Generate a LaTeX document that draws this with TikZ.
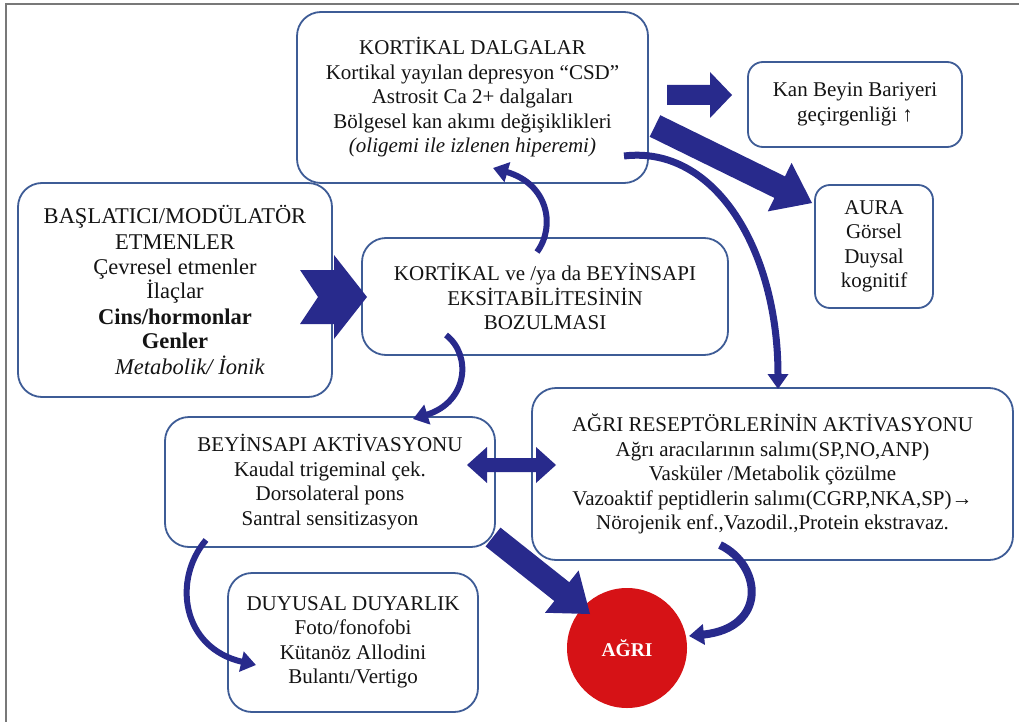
\documentclass[tikz,border=0pt]{standalone}
\usepackage{fontspec}
\setmainfont{Liberation Serif}
\usetikzlibrary{calc,arrows.meta}
\definecolor{boxcol}{RGB}{62,92,150}
\definecolor{arrcol}{RGB}{40,42,140}
\definecolor{redcol}{RGB}{214,18,22}
\definecolor{txtcol}{RGB}{20,20,20}
\definecolor{framecol}{RGB}{120,120,120}

% fat straight arrow: start, end, shaft half width, head half width, head length
\newcommand{\fatarrow}[5]{%
  \coordinate (fah) at ($(#2)!#5!(#1)$);
  \fill[arrcol] ($(#1)!#3!90:(#2)$) -- ($(fah)!#3!90:(#2)$) -- ($(fah)!#4!90:(#2)$)
    -- (#2) -- ($(fah)!#4!-90:(#2)$) -- ($(fah)!#3!-90:(#2)$) -- ($(#1)!#3!-90:(#2)$) -- cycle;
}
% double headed fat arrow
\newcommand{\dblarrow}[5]{%
  \coordinate (dah1) at ($(#1)!#5!(#2)$);
  \coordinate (dah2) at ($(#2)!#5!(#1)$);
  \fill[arrcol] (#1) -- ($(dah1)!#4!90:(#2)$) -- ($(dah1)!#3!90:(#2)$) -- ($(dah2)!#3!90:(#2)$)
    -- ($(dah2)!#4!90:(#2)$) -- (#2) -- ($(dah2)!#4!-90:(#2)$) -- ($(dah2)!#3!-90:(#2)$)
    -- ($(dah1)!#3!-90:(#2)$) -- ($(dah1)!#4!-90:(#2)$) -- cycle;
}

\tikzset{
  box/.style={draw=boxcol, line width=1.8pt, rounded corners=24pt, fill=white,
    align=center, inner sep=0pt, text=txtcol,
    font=\fontsize{21}{24.5}\selectfont},
  smallbox/.style={box, rounded corners=15pt},
  curv/.style={draw=arrcol, line width=6pt, line cap=butt,
    -{Triangle[length=15pt,width=20pt]}},
}

\begin{document}
\begin{tikzpicture}[x=1pt,y=-1pt]
\useasboundingbox (0,0) rectangle (1019,722);
\fill[white] (0,0) rectangle (1019,722);
\draw[framecol, line width=2.5pt] (6,722) -- (6,4) -- (1019,4);

% boxes
\node[box, minimum width=351pt, minimum height=171pt] (A) at (472.5,97.5)
  {KORTİKAL DALGALAR\\ Kortikal yayılan depresyon “CSD”\\ Astrosit Ca 2+ dalgaları\\
   Bölgesel kan akımı değişiklikleri\\ \textit{(oligemi ile izlenen hiperemi)}};
\node[smallbox, minimum width=214pt, minimum height=85pt] (B) at (855,104.5)
  {Kan Beyin Bariyeri\\ geçirgenliği ↑};
\node[smallbox, minimum width=118pt, minimum height=123pt] (C) at (874,246.5)
  {AURA\\ Görsel\\ Duysal\\ kognitif};
\node[box, minimum width=314pt, minimum height=214pt,
  font=\fontsize{22.5}{25}\selectfont] (D) at (175,290)
  {BAŞLATICI/MODÜLATÖR\\ ETMENLER\\ Çevresel etmenler\\ İlaçlar\\
   \textbf{Cins/hormonlar}\\ \textbf{Genler}\\ \hspace*{30pt}\textit{Metabolik/ İonik}};
\node[box, minimum width=366pt, minimum height=117pt] (E) at (545,296.5)
  {KORTİKAL ve /ya da BEYİNSAPI\\ EKSİTABİLİTESİNİN\\ BOZULMASI};
\node[box, minimum width=330pt, minimum height=130pt] (F) at (330,482)
  {BEYİNSAPI AKTİVASYONU\\ Kaudal trigeminal çek.\\ Dorsolateral pons\\ Santral sensitizasyon};
\node[box, minimum width=481pt, minimum height=172pt] (G) at (772.5,474)
  {AĞRI RESEPTÖRLERİNİN AKTİVASYONU\\ Ağrı aracılarının salımı(SP,NO,ANP)\\
   Vasküler /Metabolik çözülme\\ Vazoaktif peptidlerin salımı(CGRP,NKA,SP)→\\
   Nörojenik enf.,Vazodil.,Protein ekstravaz.};
\node[box, minimum width=250pt, minimum height=139pt] (H) at (353,642.5)
  {DUYUSAL DUYARLIK\\ Foto/fonofobi\\ Kütanöz Allodini\\ Bulantı/Vertigo};
\node[circle, fill=redcol, minimum size=120pt, inner sep=0pt, text=white,
  font=\fontsize{19.5}{21}\bfseries] (P) at (627,648) {AĞRI};

% connector end points
\coordinate (ab1) at (667,95);  \coordinate (ab2) at (732,95);
\coordinate (ac1) at (655,126); \coordinate (ac2) at (812,203);
\coordinate (fp1) at (493,537); \coordinate (fp2) at (590,614);
\coordinate (fg1) at (467,465); \coordinate (fg2) at (556,465);

\fatarrow{ab1}{ab2}{10pt}{23pt}{22pt}
\fatarrow{ac1}{ac2}{12pt}{27pt}{36pt}
\fatarrow{fp1}{fp2}{12pt}{27pt}{36pt}
\dblarrow{fg1}{fg2}{7pt}{18pt}{20pt}

% notched arrow D -> E
\fill[arrcol] (300,270) -- (334,270) -- (334,255) -- (367,297) -- (334,339)
  -- (334,324) -- (300,324) -- (318,297) -- cycle;

% curved arrows
\coordinate (e1) at (537,252);  \coordinate (a1) at (493,168);
\draw[curv] (e1) .. controls (556,226) and (548,184) .. (a1);
\coordinate (e2) at (446,335);  \coordinate (f1) at (413,419);
\draw[curv] (e2) .. controls (472,355) and (468,402) .. (f1);
\coordinate (a2) at (624,156);  \coordinate (g1) at (778,389);
\draw[curv, line width=7pt] (a2) .. controls (715,145) and (778,250) .. (g1);
\coordinate (g2) at (720,545);  \coordinate (p1) at (689,636);
\draw[curv, line width=8pt] (g2) .. controls (762,565) and (768,628) .. (p1);
\coordinate (f2) at (206,540);  \coordinate (h1) at (256,665);
\draw[curv] (f2) .. controls (172,580) and (182,648) .. (h1);
\end{tikzpicture}
\end{document}
